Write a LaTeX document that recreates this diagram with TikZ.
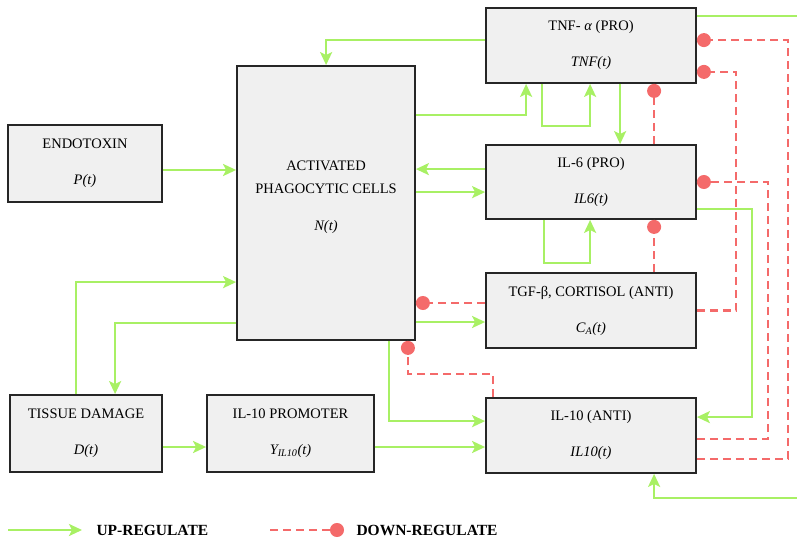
\documentclass[tikz,border=0pt]{standalone}
\usepackage{fontspec}
\setmainfont{Liberation Serif}
\usepackage{xcolor}
\definecolor{BoxFill}{HTML}{F0F0F0}
\definecolor{UpGreen}{HTML}{A8F064}
\definecolor{DownRed}{HTML}{F46A6A}
\usetikzlibrary{arrows.meta,positioning}

\begin{document}
\begin{tikzpicture}[x=1pt, y=-1pt, every node/.style={font=\fontsize{14.5}{17}\selectfont}]
\tikzset{box/.style={draw=black!85, line width=1.8pt, fill=BoxFill, align=center, inner sep=2pt}}
\tikzset{up/.style={draw=UpGreen, line width=2.4pt, -{Stealth[length=13pt,width=12pt,inset=3pt]}}}
\tikzset{down/.style={draw=DownRed, line width=2.2pt, dash pattern=on 8pt off 5pt, -{Circle[length=14pt,fill=DownRed]}}}
\tikzset{legend/.style={font=\fontsize{15.5}{18}\selectfont\bfseries, anchor=west}}
\useasboundingbox (0,0) rectangle (797,540);

% compartments
\node[box, minimum width=154pt, minimum height=77pt] (endo) at (85,163.5) {ENDOTOXIN\\[19pt]\textit{P(t)}};
\node[box, minimum width=178pt, minimum height=274pt] (cells) at (326,203) {ACTIVATED\\[6pt]PHAGOCYTIC CELLS\\[20pt]\textit{N(t)}\\[-3pt]\mbox{}};
\node[box, minimum width=210pt, minimum height=75pt] (tnf) at (591,45.5) {TNF- \textit{α} (PRO)\\[19pt]\textit{TNF(t)}};
\node[box, minimum width=210pt, minimum height=74pt] (il6) at (591,182) {IL-6 (PRO)\\[19pt]\textit{IL6(t)}};
\node[box, minimum width=210pt, minimum height=75pt] (tgf) at (591,310.5) {TGF-β, CORTISOL (ANTI)\\[19pt]\textit{C\textsubscript{A}(t)}};
\node[box, minimum width=210pt, minimum height=75pt] (il10) at (591,435.5) {IL-10 (ANTI)\\[19pt]\textit{IL10(t)}};
\node[box, minimum width=152pt, minimum height=77pt] (tissue) at (86,433.5) {TISSUE DAMAGE\\[19pt]\textit{D(t)}};
\node[box, minimum width=167pt, minimum height=77pt] (promoter) at (290.5,433.5) {IL-10 PROMOTER\\[19pt]\textit{Y\textsubscript{IL10}(t)}};

% up-regulation
\draw[up] ([yshift=-33pt]tnf.north west) -| ([xshift=90pt]cells.north west);
\draw[up] ([yshift=-50pt]cells.north east) -| ([xshift=41pt]tnf.south west);
\draw[up] ([xshift=57pt]tnf.south west) -- ++(0,42) -| ([xshift=105pt]tnf.south west);
\draw[up] ([xshift=135pt]tnf.south west) -- ([xshift=135pt]il6.north west);
\draw[up] ([yshift=-25pt]il6.north west) coordinate (p1) -- (p1 -| cells.east);
\path ([yshift=-48pt]il6.north west) coordinate (p2);
\draw[up] (p2 -| cells.east) -- (p2);
\draw[up] ([xshift=59pt]il6.south west) -- ++(0,43) -| ([xshift=105pt]il6.south west);
\draw[up] ([yshift=11pt]il6.south east) -- ++(55,0) |- ([yshift=-20pt]il10.north east);
\draw[up] ([yshift=-9pt]tnf.north east) -- ++(106,0) -- ++(0,482) -| ([xshift=169pt]il10.south west);
\draw[up] ([yshift=-6.5pt]endo.east) coordinate (p3) -- (p3 -| cells.west);
\draw[up] ([xshift=67pt]tissue.north west) |- ([yshift=-217pt]cells.north west);
\draw[up] ([yshift=18pt]cells.south west) -| ([xshift=106pt]tissue.north west);
\draw[up] ([yshift=-13.5pt]tissue.east) coordinate (p4) -- (p4 -| promoter.west);
\draw[up] (p4 -| promoter.east) -- (p4 -| il10.west);
\draw[up] ([xshift=-27pt]cells.south east) |- ([yshift=-24pt]il10.north west);
\path ([yshift=-11.5pt]tgf.west) coordinate (p5);
\draw[up] (p5 -| cells.east) -- (p5);

% down-regulation
\draw[down] ([yshift=7.5pt]tgf.west) coordinate (p6) -- (p6 -| cells.east);
\draw[down] ([xshift=8pt]il10.north west) -- ++(0,-23) -| ([xshift=-8pt]cells.south east);
\draw[down] ([xshift=169pt]il6.north west) -- ([xshift=169pt]tnf.south west);
\draw[down] ([xshift=169pt]tgf.north west) -- ([xshift=169pt]il6.south west);
\draw[down] ([yshift=15pt]il10.south east) -- ++(91,0) |- ([yshift=-33pt]tnf.north east);
\draw[down] (tgf.east) -- ++(39,0) |- ([yshift=12pt]tnf.south east);
\draw[down] ([yshift=35pt]il10.south east) -- ++(71,0) |- (il6.east);

% legend
\coordinate (upA) at (8,530);
\coordinate (upB) at (82,530);
\draw[up] (upA) -- (upB);
\node[legend] (uplabel) at (93,530) {UP-REGULATE};
\coordinate (downA) at (270,530);
\coordinate (downB) at (344,530);
\draw[down] (downA) -- (downB);
\node[legend] (downlabel) at (353,530) {DOWN-REGULATE};
\end{tikzpicture}
\end{document}
